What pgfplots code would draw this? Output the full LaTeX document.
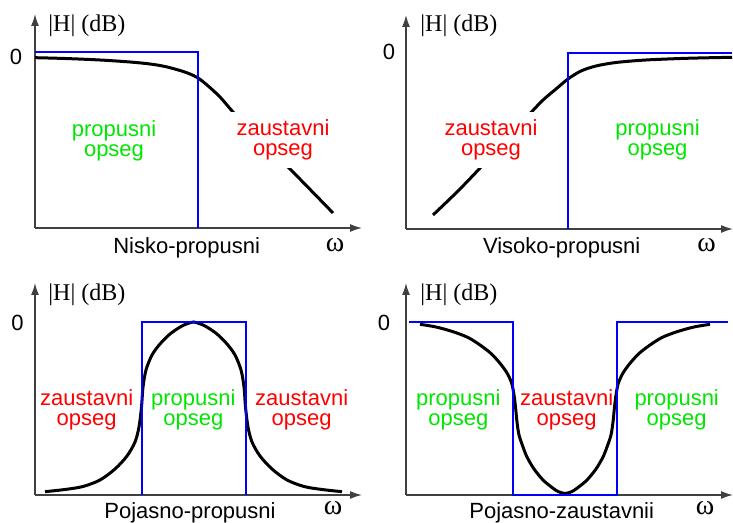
\documentclass[border=0pt]{standalone}
\usepackage{pgfplots}
\pgfplotsset{compat=1.18}
\usepackage{fontspec}
\setmainfont{Liberation Sans}
\newfontfamily\serif{Liberation Serif}
\usetikzlibrary{arrows.meta}
\definecolor{pgreen}{RGB}{0,230,0}
\definecolor{zred}{RGB}{255,0,0}
\definecolor{fblue}{RGB}{0,0,255}
\newcommand\lab{\fontsize{11}{9.8}\selectfont}
\newcommand\zero{\fontsize{11}{13}\selectfont}
\newcommand\hdb{\fontsize{12}{14}\selectfont\serif}

\pgfplotsset{
  filt/.style={scale only axis, width=163.5pt, xmin=0, xmax=327,
    axis lines=left,
    axis line style={black!75, line width=0.75pt, -{Latex[length=6pt,width=4pt]}},
    xtick=\empty, ytick=\empty, clip=false, anchor=south west},
  ideal/.style={fblue, line width=1pt},
  real/.style={black, line width=1.5pt, smooth},
}

\begin{document}
\begin{tikzpicture}[x=0.5pt,y=0.5pt]
\path[use as bounding box] (0,0) rectangle (733,523);

% Nisko-propusni
\begin{axis}[filt, at={(17.5pt,147.5pt)}, height=107pt, ymin=-176, ymax=38]
\addplot[real] coordinates {
 (0,-5.7) (30,-6.5) (65,-8) (95,-10) (115,-12) (130,-14.5) (145,-18.5)
 (155,-22) (163,-26) (172,-33) (185,-45) (198,-60) (213,-75) (228,-90)
 (258,-120) (298,-161)};
\end{axis}

% Visoko-propusni
\begin{axis}[filt, at={(203pt,147pt)}, height=107pt, ymin=-176, ymax=38]
\addplot[real] coordinates {
 (27,-162) (52,-138) (76,-113) (100,-87) (120,-65) (136,-48) (150,-36)
 (162,-26) (175,-18) (190,-13) (210,-9.5) (240,-7) (281,-5.3) (326,-4.3)};
\end{axis}

% Pojasno-propusni
\begin{axis}[filt, at={(17.5pt,14pt)}, height=106pt, ymin=-173, ymax=39]
\addplot[real] coordinates {
 (10,-169.7) (30,-167.5) (48,-164.5) (65,-158) (80,-147) (92,-134)
 (100,-120) (104,-105) (106.5,-85) (108,-65) (111,-48) (117,-33)
 (125,-22) (135,-12) (146,-4.5) (152,-1.8) (158.5,0) (165,-1.8) (171,-4.5)
 (182,-12) (192,-22)
 (200,-33) (206,-48) (209,-65) (210.5,-85) (213,-105) (217,-120)
 (225,-134) (237,-147) (252,-158) (269,-164.5) (287,-167.5) (307,-169.7)};
\addplot[ideal] coordinates {(106.7,-173) (106.7,0) (210.7,0) (210.7,-173)};
\end{axis}

% Pojasno-zaustavni
\begin{axis}[filt, at={(203pt,14pt)}, height=106pt, ymin=-173, ymax=39]
\addplot[real] coordinates {
 (14,-2.3) (30,-5) (47,-9.7) (62,-15.5) (74,-23) (85,-31.5) (94,-41.3)
 (101,-51) (105.7,-61.3) (108,-73) (109.5,-85) (111,-100) (113,-113)
 (117,-125) (121,-135) (128,-147) (137,-158) (146,-165.5) (152,-169.5)
 (159,-171.5) (166,-169.5) (172,-165.5) (181,-158) (190,-147) (197,-135)
 (201,-125) (205,-113)
 (207,-100) (208.5,-85) (210,-73) (212.3,-61.3) (217,-51) (224,-41.3)
 (233,-31.5) (244,-23) (256,-15.5) (271,-9.7) (288,-5) (304,-2.3)};
\addplot[ideal] coordinates {(3.3,0) (107.3,0) (107.3,-173) (210.7,-173) (210.7,0) (322.3,0)};
\end{axis}

% band labels (white boxes hide the curve in the top panels)
\node[align=center, font=\lab, text=pgreen] at (114,382) {propusni\\opseg};
\node[align=center, font=\lab, text=zred, fill=white, inner xsep=6pt, inner ysep=4pt] at (283,383) {zaustavni\\opseg};
\node[align=center, font=\lab, text=zred, fill=white, inner xsep=6pt, inner ysep=4pt] at (491,383) {zaustavni\\opseg};
\node[align=center, font=\lab, text=pgreen] at (657.5,383) {propusni\\opseg};

\node[align=center, font=\lab, text=zred] at (86.7,113) {zaustavni\\opseg};
\node[align=center, font=\lab, text=pgreen] at (193.3,113) {propusni\\opseg};
\node[align=center, font=\lab, text=zred] at (301.7,113) {zaustavni\\opseg};
\node[align=center, font=\lab, text=pgreen] at (458.3,113) {propusni\\opseg};
\node[align=center, font=\lab, text=zred] at (566.7,113) {zaustavni\\opseg};
\node[align=center, font=\lab, text=pgreen] at (676.7,113) {propusni\\opseg};

% ideal responses of the top panels drawn over the boxes
\begin{axis}[filt, at={(17.5pt,147.5pt)}, height=107pt, ymin=-176, ymax=38, hide axis]
\addplot[ideal] coordinates {(0,0) (163,0) (163,-176)};
\end{axis}
\begin{axis}[filt, at={(203pt,147pt)}, height=107pt, ymin=-176, ymax=38, hide axis]
\addplot[ideal] coordinates {(162,-176) (162,0) (326,0)};
\end{axis}

% axis texts
\foreach \x/\y in {48/497, 420/497, 48/228, 420/228}
  \node[anchor=west, inner sep=0pt, font=\hdb] at (\x,\y) {|H| (dB)};
\foreach \x/\y in {16/466.5, 389/471, 17.5/200, 384/200}
  \node[font=\zero] at (\x,\y) {0};
\foreach \x/\y in {335/278, 706.7/278, 333/15, 705/15}
  \node[font=\fontsize{14}{16}\selectfont\serif] at (\x,\y) {ω};
\node[font=\lab] at (186.7,275) {Nisko-propusni};
\node[font=\lab] at (561.7,275) {Visoko-propusni};
\node[font=\lab] at (190,10) {Pojasno-propusni};
\node[font=\lab] at (561.7,10) {Pojasno-zaustavnii};
\end{tikzpicture}
\end{document}
